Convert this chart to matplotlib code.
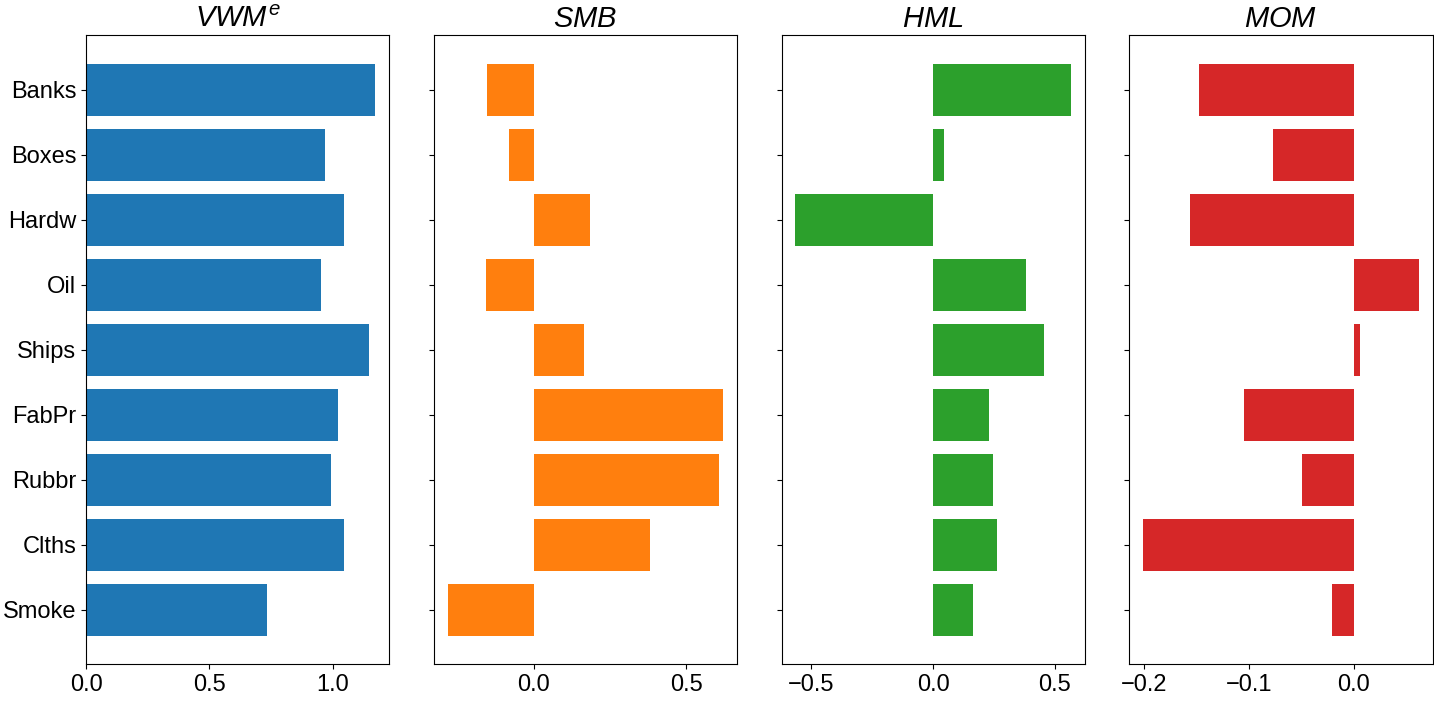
import matplotlib
matplotlib.use("Agg")
import matplotlib.pyplot as plt
from matplotlib.ticker import MultipleLocator

# ------------------------------------------------------
# DADOS
# ------------------------------------------------------
industries = ["Banks", "Boxes", "Hardw", "Oil", "Ships", "FabPr", "Rubbr", "Clths", "Smoke"]
vwm = [1.17, 0.968, 1.045, 0.951, 1.146, 1.02, 0.992, 1.045, 0.733]
smb = [-0.155, -0.082, 0.184, -0.158, 0.164, 0.622, 0.609, 0.382, -0.283]
hml = [0.566, 0.045, -0.566, 0.381, 0.455, 0.230, 0.246, 0.262, 0.164]
mom = [-0.148, -0.077, -0.156, 0.062, 0.006, -0.105, -0.049, -0.201, -0.021]

titles = [r"$VWM^e$", r"$SMB$", r"$HML$", r"$MOM$"]
colors = ["tab:blue", "tab:orange", "tab:green", "tab:red"]
tick_steps = [0.5, 0.5, 0.5, 0.1]

# ------------------------------------------------------
# ESTILO
# ------------------------------------------------------
plt.rcParams["font.family"] = ["Liberation Sans", "DejaVu Sans"]
plt.rcParams["mathtext.fontset"] = "custom"
plt.rcParams["mathtext.rm"] = "Liberation Sans"
plt.rcParams["mathtext.it"] = "Liberation Sans:italic"

# ------------------------------------------------------
# FIGURA
# ------------------------------------------------------
fig, axes = plt.subplots(1, 4, figsize=(14.34, 7.02), dpi=100, sharey=True)

for ax, vals, title, color, step in zip(axes, [vwm, smb, hml, mom], titles, colors, tick_steps):
    ax.barh(industries, vals, color=color)
    ax.set_title(title, fontsize=21)
    ax.xaxis.set_major_locator(MultipleLocator(step))
    ax.tick_params(axis="both", labelsize=17)

axes[0].invert_yaxis()

plt.subplots_adjust(left=0.060, right=0.999, top=0.950, bottom=0.054, wspace=0.147)
plt.savefig("out.png", dpi=100)
